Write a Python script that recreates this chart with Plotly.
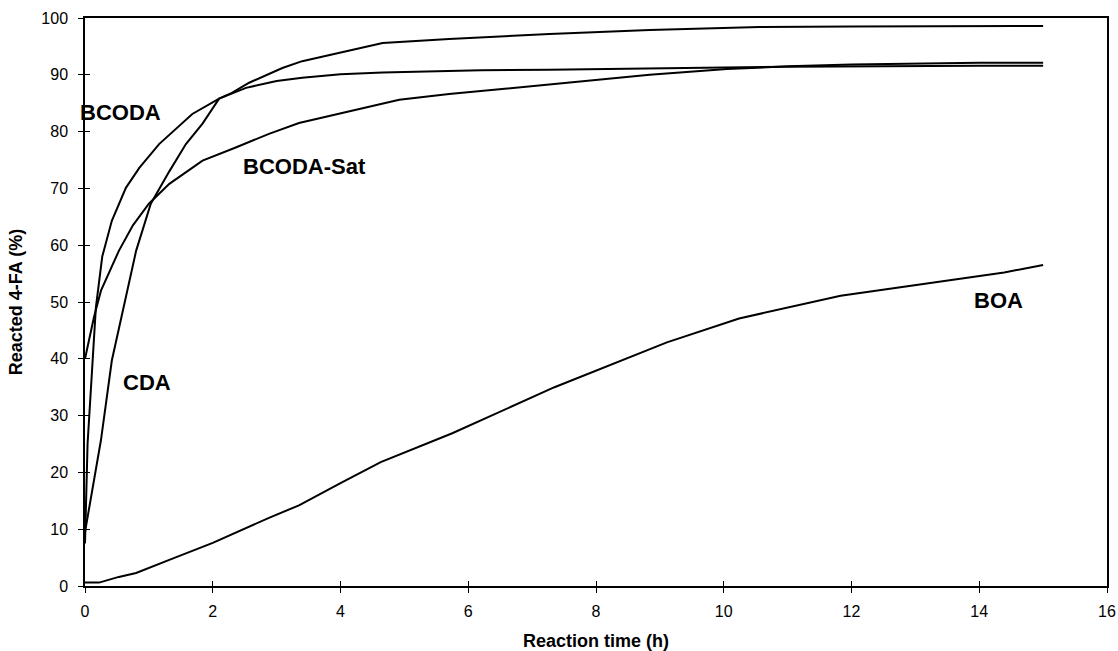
import plotly.graph_objects as go

# Data
bcoda_x = [0, 0.04, 0.17, 0.27, 0.42, 0.64, 0.85, 1.16, 1.68, 2.1, 2.52, 3.0, 3.4, 4.0, 4.66, 6.2, 7.27, 8.84, 10.0, 11.0, 12.0, 13.0, 14.0, 15.0]
bcoda_y = [7.5, 25, 49, 58, 64.3, 70.1, 73.6, 77.8, 83.1, 85.8, 87.7, 88.9, 89.5, 90.1, 90.4, 90.8, 90.9, 91.2, 91.3, 91.4, 91.5, 91.5, 91.6, 91.6]

sat_x = [0, 0.14, 0.25, 0.53, 0.75, 1.0, 1.32, 1.84, 2.36, 2.88, 3.35, 4.14, 4.92, 5.7, 6.75, 7.8, 8.84, 10.05, 11.0, 12.0, 13.0, 14.0, 15.0]
sat_y = [40, 47.3, 52, 59, 63.5, 67.3, 70.8, 74.9, 77.2, 79.6, 81.5, 83.5, 85.6, 86.6, 87.7, 88.8, 90, 91, 91.5, 91.8, 92.0, 92.1, 92.1]

cda_x = [0, 0.25, 0.42, 0.58, 0.8, 1.03, 1.32, 1.58, 1.84, 2.1, 2.3, 2.57, 3.09, 3.4, 4.14, 4.66, 5.7, 7.27, 8.84, 10.56, 12.0, 13.5, 15.0]
cda_y = [9.5, 25.7, 39.7, 48, 59, 67.3, 73, 77.8, 81.4, 85.8, 86.8, 88.6, 91.2, 92.4, 94.2, 95.6, 96.3, 97.2, 97.9, 98.4, 98.5, 98.6, 98.6]

boa_x = [0, 0.22, 0.53, 0.8, 1.32, 2.0, 2.88, 3.35, 4.0, 4.63, 5.75, 7.35, 9.11, 10.24, 11.83, 12.95, 14.39, 15.0]
boa_y = [0.6, 0.6, 1.6, 2.3, 4.6, 7.6, 12.0, 14.2, 18.1, 21.8, 26.9, 35.0, 42.9, 47.1, 51.1, 52.9, 55.2, 56.5]

labels = ["BCODA", "BCODA-Sat", "CDA", "BOA"]
label_x = [0.55, 3.43, 0.97, 14.3]
label_y = [83.3, 73.8, 35.9, 50.3]

x_ticks = [0, 2, 4, 6, 8, 10, 12, 14, 16]
y_ticks = [0, 10, 20, 30, 40, 50, 60, 70, 80, 90, 100]

FONT = "Liberation Sans, Arial"

fig = go.Figure()
line = dict(color="black", width=2)
for xs, ys, name in [(bcoda_x, bcoda_y, "BCODA"), (sat_x, sat_y, "BCODA-Sat"),
                     (cda_x, cda_y, "CDA"), (boa_x, boa_y, "BOA")]:
    fig.add_trace(go.Scatter(x=xs, y=ys, mode="lines", line=line, name=name,
                             showlegend=False))

for t, x, y in zip(labels, label_x, label_y):
    fig.add_annotation(x=x, y=y, text="<b>" + t + "</b>", showarrow=False,
                       font=dict(family=FONT, size=22, color="black"),
                       xref="x", yref="y")

axis_common = dict(showgrid=False, zeroline=False, showline=True, linecolor="black",
                   linewidth=1.5, mirror=True, ticks="outside", ticklen=5,
                   tickcolor="black", tickwidth=1, automargin=False,
                   tickfont=dict(family=FONT, size=16, color="black"))

fig.update_layout(
    width=1118, height=651,
    margin=dict(l=85, r=11, t=18, b=65),
    paper_bgcolor="white", plot_bgcolor="white",
    xaxis=dict(range=[0, 16], tickvals=x_ticks, ticktext=[str(v) for v in x_ticks],
               ticklabelstandoff=5,
               title=dict(text="<b>Reaction time (h)</b>", standoff=16,
                          font=dict(family=FONT, size=18, color="black")),
               **axis_common),
    yaxis=dict(range=[0, 100], tickvals=y_ticks, ticktext=[str(v) for v in y_ticks],
               ticklabelstandoff=7,
               title=dict(text="<b>Reacted 4-FA (%)</b>", standoff=14,
                          font=dict(family=FONT, size=18, color="black")),
               **axis_common),
    xaxis2=dict(range=[0, 16], overlaying="x", tickvals=x_ticks, ticks="inside", ticklen=5,
                tickcolor="black", showticklabels=False, showgrid=False, zeroline=False,
                showline=False, side="bottom", matches="x"),
    yaxis2=dict(range=[0, 100], overlaying="y", tickvals=y_ticks, ticks="inside", ticklen=5,
                tickcolor="black", showticklabels=False, showgrid=False, zeroline=False,
                showline=False, side="left", matches="y"),
)
# invisible trace to activate the inner tick axes
fig.add_trace(go.Scatter(x=[0], y=[0], xaxis="x2", yaxis="y2", mode="markers",
                         marker=dict(opacity=0), showlegend=False, hoverinfo="skip"))

fig.write_html("out.html")
